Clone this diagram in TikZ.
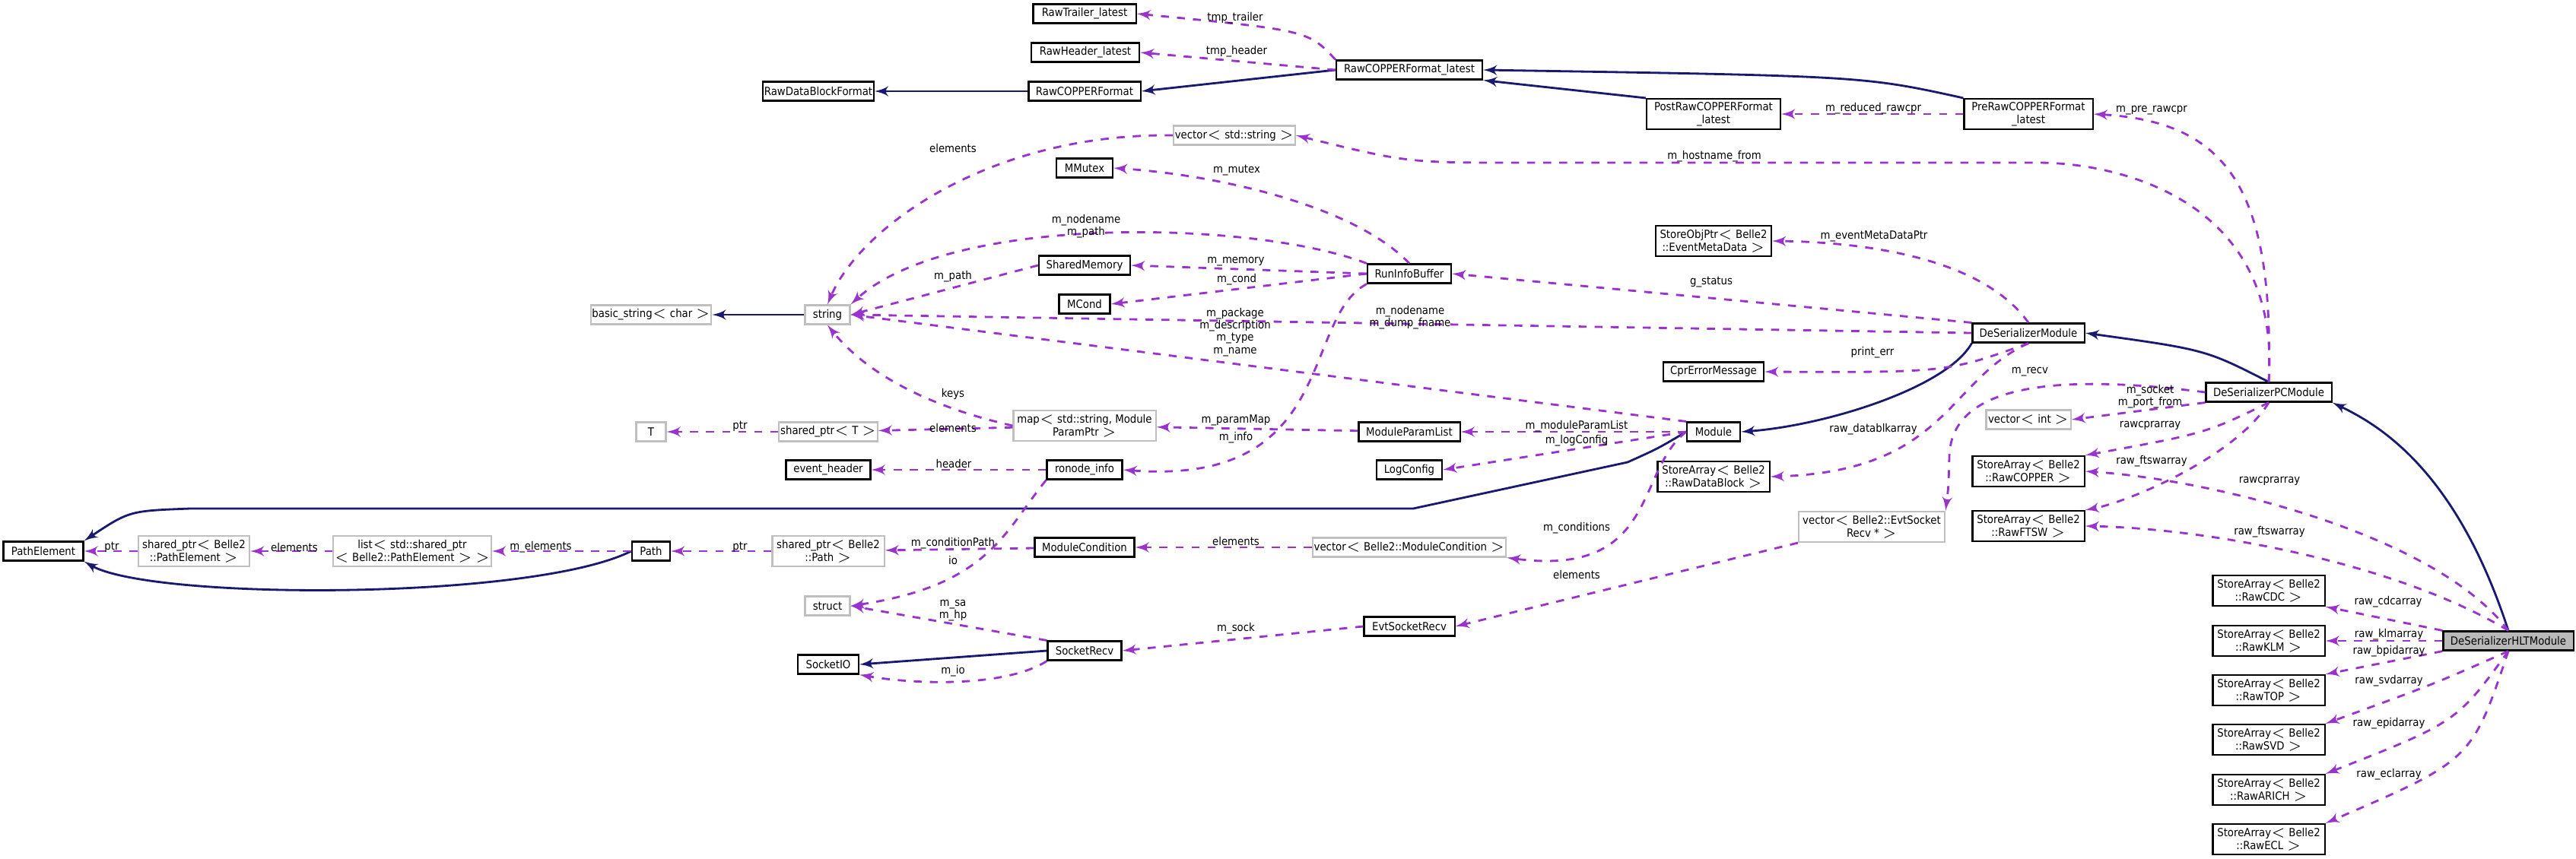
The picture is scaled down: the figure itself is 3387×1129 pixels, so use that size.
\documentclass[tikz,border=0pt]{standalone}
\usepackage{fontspec}
\setmainfont{DejaVu Sans Condensed}
\usetikzlibrary{arrows,positioning}
\definecolor{inhcol}{RGB}{25,25,112}
\definecolor{usecol}{RGB}{154,50,205}
\tikzstyle{cls} = [rectangle, draw=black, semithick, fill=white, inner sep=0.5pt, align=center, minimum height=0.25cm, font=\fontsize{4.2}{4.8}\selectfont]
\tikzstyle{ext} = [cls, draw=gray!50]
\tikzstyle{two} = [minimum height=0.40cm]
\tikzstyle{inh} = [draw=inhcol, thick, -latex']
\tikzstyle{use} = [draw=usecol, dashed, thick, -latex']
\tikzstyle{lbl} = [align=center, inner sep=0pt, font=\fontsize{4.2}{4.6}\selectfont]

\begin{document}
\begin{tikzpicture}[x=0.01cm, y=-0.01cm]
    \useasboundingbox (0,0) rectangle (3387,1129);
    % top: COPPER formats
    \node [cls, minimum width=1.35cm] (trailer) at (1426,18) {RawTrailer\_latest};
    \node [cls, minimum width=1.42cm] (header) at (1427,69) {RawHeader\_latest};
    \node [cls, minimum width=1.47cm] (copper) at (1426,120) {RawCOPPERFormat};
    \node [cls, minimum width=1.38cm] (datablk) at (1076,120) {RawDataBlockFormat};
    \node [cls, minimum width=1.92cm] (copperlt) at (1853,92) {RawCOPPERFormat\_latest};
    \node [cls, two, minimum width=1.76cm] (postraw) at (2253,150) {PostRawCOPPERFormat\\\_latest};
    \node [cls, two, minimum width=1.69cm] (preraw) at (2667,150) {PreRawCOPPERFormat\\\_latest};
    % strings and helpers
    \node [ext, minimum width=1.59cm] (vecstr) at (1623,178) {vector$<$ std::string $>$};
    \node [cls, minimum width=0.74cm] (mutex) at (1426,221) {MMutex};
    \node [cls, minimum width=1.20cm] (shm) at (1426,349) {SharedMemory};
    \node [cls, minimum width=0.67cm] (mcond) at (1426,400) {MCond};
    \node [cls, minimum width=1.10cm] (runinfo) at (1853,360) {RunInfoBuffer};
    \node [ext, minimum width=0.59cm] (str) at (1088,414) {string};
    \node [ext, minimum width=1.58cm] (basicstr) at (856,414) {basic\_string$<$ char $>$};
    \node [cls, two, minimum width=1.52cm] (evtmeta) at (2253,317) {StoreObjPtr$<$ Belle2\\::EventMetaData $>$};
    \node [cls, minimum width=1.32cm] (cprerr) at (2253,489) {CprErrorMessage};
    \node [cls, minimum width=1.47cm] (deser) at (2667,438) {DeSerializerModule};
    \node [cls, minimum width=1.65cm] (deserpc) at (2983,516) {DeSerializerPCModule};
    \node [ext, minimum width=1.11cm] (vecint) at (2667,552) {vector$<$ int $>$};
    % module chain
    \node [ext, minimum width=0.39cm] (tt) at (856,568) {T};
    \node [ext, minimum width=1.29cm] (sharedt) at (1089,568) {shared\_ptr$<$ T $>$};
    \node [ext, two, minimum width=1.87cm] (parammap) at (1426,560) {map$<$ std::string, Module\\ParamPtr $>$};
    \node [cls, minimum width=1.33cm] (paramlist) at (1853,568) {ModuleParamList};
    \node [cls, minimum width=0.70cm] (module) at (2253,568) {Module};
    \node [cls, minimum width=1.11cm] (evheader) at (1089,618) {event\_header};
    \node [cls, minimum width=0.99cm] (ronode) at (1426,618) {ronode\_info};
    \node [cls, minimum width=0.86cm] (logcfg) at (1853,618) {LogConfig};
    \node [cls, two, minimum width=1.47cm] (rawdatablk) at (2253,627) {StoreArray$<$ Belle2\\::RawDataBlock $>$};
    \node [cls, two, minimum width=1.47cm] (rawcopper) at (2667,620) {StoreArray$<$ Belle2\\::RawCOPPER $>$};
    \node [cls, two, minimum width=1.47cm] (rawftsw) at (2667,692) {StoreArray$<$ Belle2\\::RawFTSW $>$};
    \node [ext, two, minimum width=1.92cm] (vecevt) at (2461,693) {vector$<$ Belle2::EvtSocket\\Recv * $>$};
    % paths
    \node [cls, minimum width=1.05cm] (pathel) at (57,725) {PathElement};
    \node [ext, two, minimum width=1.46cm] (sharedpe) at (255,725) {shared\_ptr$<$ Belle2\\::PathElement $>$};
    \node [ext, two, minimum width=1.98cm] (listpe) at (542,725) {list$<$ std::shared\_ptr\\$<$ Belle2::PathElement $>$ $>$};
    \node [cls, minimum width=0.50cm] (path) at (856,725) {Path};
    \node [ext, two, minimum width=1.47cm] (sharedpath) at (1089,725) {shared\_ptr$<$ Belle2\\::Path $>$};
    \node [cls, minimum width=1.31cm] (modcond) at (1426,720) {ModuleCondition};
    \node [ext, minimum width=2.51cm] (vecmodcond) at (1853,720) {vector$<$ Belle2::ModuleCondition $>$};
    % sockets
    \node [ext, minimum width=0.59cm] (struct) at (1088,797) {struct};
    \node [cls, minimum width=0.80cm] (sockio) at (1089,874) {SocketIO};
    \node [cls, minimum width=0.97cm] (sockrecv) at (1426,856) {SocketRecv};
    \node [cls, minimum width=1.19cm] (evtsock) at (1853,824) {EvtSocketRecv};
    % HLT module and its arrays
    \node [cls, fill=gray!55, minimum width=1.71cm] (hlt) at (3298,843) {DeSerializerHLTModule};
    \node [cls, two, minimum width=1.47cm] (rawcdc) at (2983,777) {StoreArray$<$ Belle2\\::RawCDC $>$};
    \node [cls, two, minimum width=1.47cm] (rawklm) at (2983,843) {StoreArray$<$ Belle2\\::RawKLM $>$};
    \node [cls, two, minimum width=1.47cm] (rawtop) at (2983,908) {StoreArray$<$ Belle2\\::RawTOP $>$};
    \node [cls, two, minimum width=1.47cm] (rawsvd) at (2983,973) {StoreArray$<$ Belle2\\::RawSVD $>$};
    \node [cls, two, minimum width=1.47cm] (rawarich) at (2983,1039) {StoreArray$<$ Belle2\\::RawARICH $>$};
    \node [cls, two, minimum width=1.47cm] (rawecl) at (2983,1104) {StoreArray$<$ Belle2\\::RawECL $>$};

    % inheritance
    \path [inh] (copper) -- (datablk);
    \path [inh] (copperlt.west) -- (copper.east);
    \path [inh] (postraw.north west) -- (copperlt.south east);
    \path [inh] (preraw.north west) .. controls (2450,100) .. (copperlt.east);
    \path [inh] (str) -- (basicstr);
    \path [inh] (module.west) .. controls (2180,590) .. (2140,608) -- (1858,669) -- (250,669) .. controls (170,672) .. (pathel.north east);
    \path [inh] (path.west) .. controls (700,790) and (200,790) .. (pathel.south east);
    \path [inh] (sockrecv.west) -- (sockio.east);
    \path [inh] (deser.south west) .. controls (2560,510) and (2400,560) .. (module.east);
    \path [inh] (deserpc.north) .. controls (2900,460) .. (deser.east);
    \path [inh] (hlt.north) .. controls (3230,620) and (3130,560) .. (deserpc.south east);

    % usage
    \path [use] (copperlt.north west) .. controls (1720,40) .. (trailer.east);
    \path [use] (copperlt.west) -- (header.east);
    \path [use] (preraw) -- (postraw);
    \path [use] (deserpc.north) .. controls (2990,250) and (2930,160) .. (preraw.east);
    \path [use] (deserpc.north) .. controls (3000,260) and (2780,214) .. (2680,214) -- (2000,214) .. controls (1850,214) .. (vecstr.east);
    \path [use] (vecstr.west) .. controls (1300,175) and (1130,300) .. (str.north);
    \path [use] (runinfo.north) .. controls (1780,270) and (1600,230) .. (mutex.east);
    \path [use] (runinfo.north west) .. controls (1650,290) and (1250,280) .. (str.north east);
    \path [use] (runinfo.west) -- (shm.east);
    \path [use] (runinfo.west) -- (mcond.east);
    \path [use] (runinfo.south west) .. controls (1710,420) and (1760,640) .. (ronode.east);
    \path [use] (shm.west) -- (str.east);
    \path [use] (deser.north) .. controls (2600,330) and (2420,318) .. (evtmeta.east);
    \path [use] (deser.north west) -- (runinfo.east);
    \path [use] (deser.west) -- (str.east);
    \path [use] (deser.south) .. controls (2560,490) .. (cprerr.east);
    \path [use] (deser.south) .. controls (2560,500) and (2560,620) .. (rawdatablk.east);
    \path [use] (module.north west) -- (str.east);
    \path [use] (module) -- (paramlist);
    \path [use] (module.west) -- (logcfg.east);
    \path [use] (module.west) .. controls (2150,620) and (2180,760) .. (vecmodcond.south east);
    \path [use] (parammap.west) .. controls (1200,530) and (1130,480) .. (str.south);
    \path [use] (parammap) -- (sharedt);
    \path [use] (sharedt) -- (tt);
    \path [use] (paramlist) -- (parammap);
    \path [use] (ronode) -- (evheader);
    \path [use] (ronode.south west) .. controls (1320,700) and (1300,770) .. (struct.east);
    \path [use] (modcond) -- (sharedpath);
    \path [use] (vecmodcond) -- (modcond);
    \path [use] (sharedpath) -- (path);
    \path [use] (path) -- (listpe);
    \path [use] (listpe) -- (sharedpe);
    \path [use] (sharedpe) -- (pathel);
    \path [use] (vecevt.south west) -- (evtsock.east);
    \path [use] (evtsock.west) -- (sockrecv.east);
    \path [use] (sockrecv.north west) -- (struct.east);
    \path [use] (sockrecv.south west) .. controls (1320,905) and (1200,900) .. (sockio.south east);
    \path [use] (deserpc.west) .. controls (2620,480) and (2565,540) .. (2563,600) .. controls (2562,640) .. (vecevt.north east);
    \path [use] (deserpc.south west) -- (vecint.east);
    \path [use] (deserpc.south) .. controls (2900,570) .. (rawcopper.north east);
    \path [use] (deserpc.south) .. controls (2940,600) and (2800,660) .. (rawftsw.north east);
    \path [use] (hlt.north) .. controls (3200,700) and (2900,630) .. (rawcopper.east);
    \path [use] (hlt.north) .. controls (3150,740) and (2900,695) .. (rawftsw.east);
    \path [use] (hlt.north west) -- (rawcdc.south east);
    \path [use] (hlt) -- (rawklm);
    \path [use] (hlt.south west) -- (rawtop.north east);
    \path [use] (hlt.south) .. controls (3200,900) .. (rawsvd.north east);
    \path [use] (hlt.south) .. controls (3230,950) .. (rawarich.north east);
    \path [use] (hlt.south) .. controls (3250,1000) .. (rawecl.north east);

    % labels
    \node [lbl] (ltrailer) at (1624,24) {tmp\_trailer};
    \node [lbl] (lheader) at (1626,68) {tmp\_header};
    \node [lbl] (lreduced) at (2463,143) {m\_reduced\_rawcpr};
    \node [lbl] (lpre) at (2829,145) {m\_pre\_rawcpr};
    \node [lbl] (lhost) at (2254,206) {m\_hostname\_from};
    \node [lbl] (lelemstr) at (1253,195) {elements};
    \node [lbl] (lmutex) at (1626,224) {m\_mutex};
    \node [lbl] (lnode) at (1428,298) {m\_nodename\\m\_path};
    \node [lbl] (lmemory) at (1625,344) {m\_memory};
    \node [lbl] (lpath) at (1253,364) {m\_path};
    \node [lbl] (lcond) at (1626,368) {m\_cond};
    \node [lbl] (lpkg) at (1624,437) {m\_package\\m\_description\\m\_type\\m\_name};
    \node [lbl] (ldump) at (1854,418) {m\_nodename\\m\_dump\_fname};
    \node [lbl] (lmeta) at (2464,311) {m\_eventMetaDataPtr};
    \node [lbl] (lstatus) at (2250,371) {g\_status};
    \node [lbl] (lprint) at (2462,464) {print\_err};
    \node [lbl] (lrecv) at (2669,489) {m\_recv};
    \node [lbl] (lsocket) at (2827,522) {m\_socket\\m\_port\_from};
    \node [lbl] (ldatablk) at (2463,565) {raw\_datablkarray};
    \node [lbl] (lcpr) at (2827,560) {rawcprarray};
    \node [lbl] (lftsw) at (2829,607) {raw\_ftswarray};
    \node [lbl] (lcprhlt) at (2984,633) {rawcprarray};
    \node [lbl] (lftswhlt) at (2984,700) {raw\_ftswarray};
    \node [lbl] (lcdc) at (3140,792) {raw\_cdcarray};
    \node [lbl] (lklm) at (3141,835) {raw\_klmarray};
    \node [lbl] (lbpid) at (3141,857) {raw\_bpidarray};
    \node [lbl] (lsvd) at (3141,896) {raw\_svdarray};
    \node [lbl] (lepid) at (3141,952) {raw\_epidarray};
    \node [lbl] (lecl) at (3141,1019) {raw\_eclarray};
    \node [lbl] (lkeys) at (1253,518) {keys};
    \node [lbl] (lelemmap) at (1253,563) {elements};
    \node [lbl] (lparam) at (1625,553) {m\_paramMap};
    \node [lbl] (linfo) at (1625,576) {m\_info};
    \node [lbl] (lhdr) at (1254,610) {header};
    \node [lbl] (lptrt) at (973,561) {ptr};
    \node [lbl] (lmpl) at (2073,561) {m\_moduleParamList};
    \node [lbl] (llog) at (2073,580) {m\_logConfig};
    \node [lbl] (lconds) at (2073,695) {m\_conditions};
    \node [lbl] (lcpath) at (1253,715) {m\_conditionPath};
    \node [lbl] (lio) at (1253,737) {io};
    \node [lbl] (lelemmc) at (1625,712) {elements};
    \node [lbl] (lelemevt) at (2073,756) {elements};
    \node [lbl] (lsa) at (1253,803) {m\_sa\\m\_hp};
    \node [lbl] (lsock) at (1625,827) {m\_sock};
    \node [lbl] (lmio) at (1253,883) {m\_io};
    \node [lbl] (lptrpe) at (147,720) {ptr};
    \node [lbl] (lelempe) at (387,720) {elements};
    \node [lbl] (lmelem) at (711,720) {m\_elements};
    \node [lbl] (lptrpath) at (973,720) {ptr};
\end{tikzpicture}
\end{document}
